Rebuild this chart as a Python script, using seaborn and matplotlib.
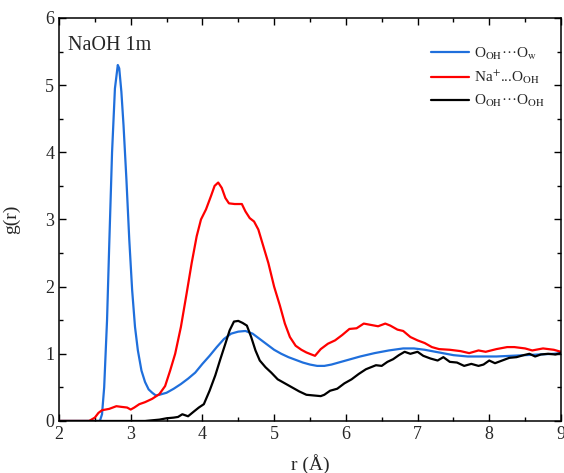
import numpy as np
import pandas as pd
import matplotlib
matplotlib.use('Agg')
import matplotlib.pyplot as plt
from matplotlib.ticker import MultipleLocator
import seaborn as sns

# --- data (r in Angstrom, g(r)) ---
r_ow = [2.0, 2.5, 2.57, 2.6, 2.63, 2.67, 2.7, 2.74, 2.78, 2.82, 2.84, 2.87, 2.9, 2.94, 2.98,
        3.02, 3.06, 3.1, 3.15, 3.2, 3.25, 3.3, 3.35, 3.4, 3.5, 3.6, 3.7, 3.8, 3.9, 4.0,
        4.1, 4.2, 4.3, 4.4, 4.5, 4.6, 4.7, 4.8, 4.9, 5.0, 5.1, 5.2, 5.3, 5.4, 5.5, 5.6,
        5.7, 5.8, 5.9, 6.0, 6.2, 6.4, 6.6, 6.8, 6.95, 7.1, 7.3, 7.5, 7.7, 7.9, 8.1, 8.3,
        8.5, 8.7, 8.9, 9.0]
g_ow = [0.0, 0.0, 0.0, 0.1, 0.5, 1.5, 2.6, 4.0, 4.95, 5.3, 5.25, 4.9, 4.4, 3.6, 2.7,
        1.95, 1.4, 1.05, 0.75, 0.58, 0.47, 0.42, 0.38, 0.39, 0.42, 0.48, 0.55, 0.63, 0.72, 0.85,
        0.97, 1.1, 1.22, 1.3, 1.33, 1.34, 1.3, 1.22, 1.14, 1.06, 1.0, 0.95, 0.91, 0.87, 0.84, 0.82,
        0.82, 0.84, 0.87, 0.9, 0.96, 1.01, 1.05, 1.08, 1.08, 1.06, 1.02, 0.98, 0.96, 0.96, 0.96, 0.97,
        0.98, 0.99, 1.0, 1.01]

r_na = [2.0, 2.42, 2.5, 2.55, 2.6, 2.7, 2.8, 2.87, 2.95, 3.0, 3.05, 3.12, 3.2, 3.3, 3.4,
        3.48, 3.55, 3.62, 3.7, 3.78, 3.85, 3.92, 3.98, 4.05, 4.12, 4.17, 4.22, 4.27, 4.32, 4.37,
        4.45, 4.55, 4.6, 4.66, 4.72, 4.78, 4.85, 4.92, 5.0, 5.08, 5.15, 5.22, 5.3, 5.38, 5.45,
        5.52, 5.57, 5.65, 5.75, 5.85, 5.95, 6.05, 6.15, 6.25, 6.35, 6.45, 6.55, 6.62, 6.72, 6.8,
        6.9, 7.0, 7.1, 7.2, 7.3, 7.45, 7.6, 7.72, 7.85, 7.95, 8.1, 8.25, 8.35, 8.5, 8.6,
        8.75, 8.9, 9.0]
g_na = [0.0, 0.0, 0.05, 0.12, 0.16, 0.18, 0.22, 0.21, 0.2, 0.17, 0.2, 0.25, 0.28, 0.33, 0.4,
        0.52, 0.75, 1.0, 1.4, 1.9, 2.35, 2.75, 3.0, 3.15, 3.35, 3.5, 3.55, 3.47, 3.32, 3.24,
        3.23, 3.23, 3.12, 3.02, 2.97, 2.85, 2.6, 2.35, 2.0, 1.72, 1.45, 1.25, 1.12, 1.06, 1.02,
        0.99, 0.97, 1.07, 1.15, 1.2, 1.28, 1.37, 1.38, 1.45, 1.43, 1.41, 1.45, 1.42, 1.36, 1.34,
        1.25, 1.2, 1.16, 1.1, 1.07, 1.06, 1.04, 1.01, 1.05, 1.03, 1.07, 1.1, 1.1, 1.08, 1.05,
        1.08, 1.06, 1.03]

r_oo = [2.0, 3.2, 3.3, 3.4, 3.5, 3.6, 3.66, 3.72, 3.8, 3.88, 3.95, 4.02, 4.1, 4.18, 4.25,
        4.32, 4.38, 4.44, 4.5, 4.56, 4.62, 4.68, 4.74, 4.8, 4.88, 4.96, 5.05, 5.15, 5.25, 5.35,
        5.45, 5.55, 5.65, 5.7, 5.78, 5.88, 5.98, 6.08, 6.18, 6.28, 6.35, 6.42, 6.5, 6.58, 6.66,
        6.74, 6.82, 6.9, 7.0, 7.08, 7.18, 7.28, 7.36, 7.45, 7.55, 7.65, 7.75, 7.85, 7.92, 8.0,
        8.08, 8.18, 8.28, 8.38, 8.48, 8.56, 8.64, 8.72, 8.82, 8.92, 9.0]
g_oo = [0.0, 0.0, 0.01, 0.02, 0.04, 0.05, 0.06, 0.1, 0.07, 0.14, 0.2, 0.25, 0.45, 0.68, 0.92,
        1.15, 1.35, 1.48, 1.49, 1.46, 1.42, 1.25, 1.05, 0.9, 0.8, 0.72, 0.62, 0.56, 0.5, 0.44,
        0.39, 0.38, 0.37, 0.39, 0.45, 0.48, 0.56, 0.62, 0.7, 0.77, 0.8, 0.83, 0.82, 0.88, 0.92,
        0.98, 1.03, 1.0, 1.03, 0.97, 0.93, 0.9, 0.95, 0.88, 0.87, 0.82, 0.85, 0.82, 0.84, 0.9,
        0.86, 0.9, 0.94, 0.95, 0.98, 1.0, 0.96, 0.99, 1.0, 0.99, 1.01]

labels = ['O$_{\\mathrm{OH}}$\u00b7\u00b7\u00b7O$_{\\mathrm{w}}$',
          'Na$^{+}$...O$_{\\mathrm{OH}}$',
          'O$_{\\mathrm{OH}}$\u00b7\u00b7\u00b7O$_{\\mathrm{OH}}$']
colors = ['#1f6fdc', '#ff0000', '#000000']

# --- style ---
sns.set_style('ticks')
plt.rcParams['font.family'] = ['Liberation Serif', 'DejaVu Serif']
plt.rcParams['mathtext.fontset'] = 'stix'
plt.rcParams['xtick.direction'] = 'in'
plt.rcParams['ytick.direction'] = 'in'

fig = plt.figure(figsize=(5.64, 4.73), dpi=100)
ax = fig.add_axes([0.1046, 0.11, 0.89, 0.852])

for r, g, lab, col in zip([r_ow, r_na, r_oo], [g_ow, g_na, g_oo], labels, colors):
    df = pd.DataFrame({'r': r, 'g': g})
    sns.lineplot(data=df, x='r', y='g', ax=ax, color=col, linewidth=1.6, label=lab)

ax.set_xlim(2, 9)
ax.set_ylim(0, 6)
ax.xaxis.set_major_locator(MultipleLocator(1))
ax.xaxis.set_minor_locator(MultipleLocator(0.5))
ax.yaxis.set_major_locator(MultipleLocator(1))
ax.yaxis.set_minor_locator(MultipleLocator(0.5))
ax.tick_params(which='both', top=True, right=True, labeltop=False, labelright=False,
               width=1.0, color='black')
ax.tick_params(which='major', length=5, labelsize=13)
ax.tick_params(which='minor', length=3)
for sp in ax.spines.values():
    sp.set_linewidth(1.1)
    sp.set_color('black')

ax.set_xlabel('r (\u00c5)', fontsize=14, labelpad=8)
ax.set_ylabel('g(r)', fontsize=14, labelpad=18)
ax.text(0.018, 0.955, 'NaOH 1m', transform=ax.transAxes, fontsize=14.5, va='top', ha='left')

leg = ax.legend(loc='upper right', frameon=False, fontsize=11, handlelength=2.5,
                handletextpad=0.3, labelspacing=0.45, bbox_to_anchor=(0.995, 0.965))

fig.savefig('out.png', dpi=100)
